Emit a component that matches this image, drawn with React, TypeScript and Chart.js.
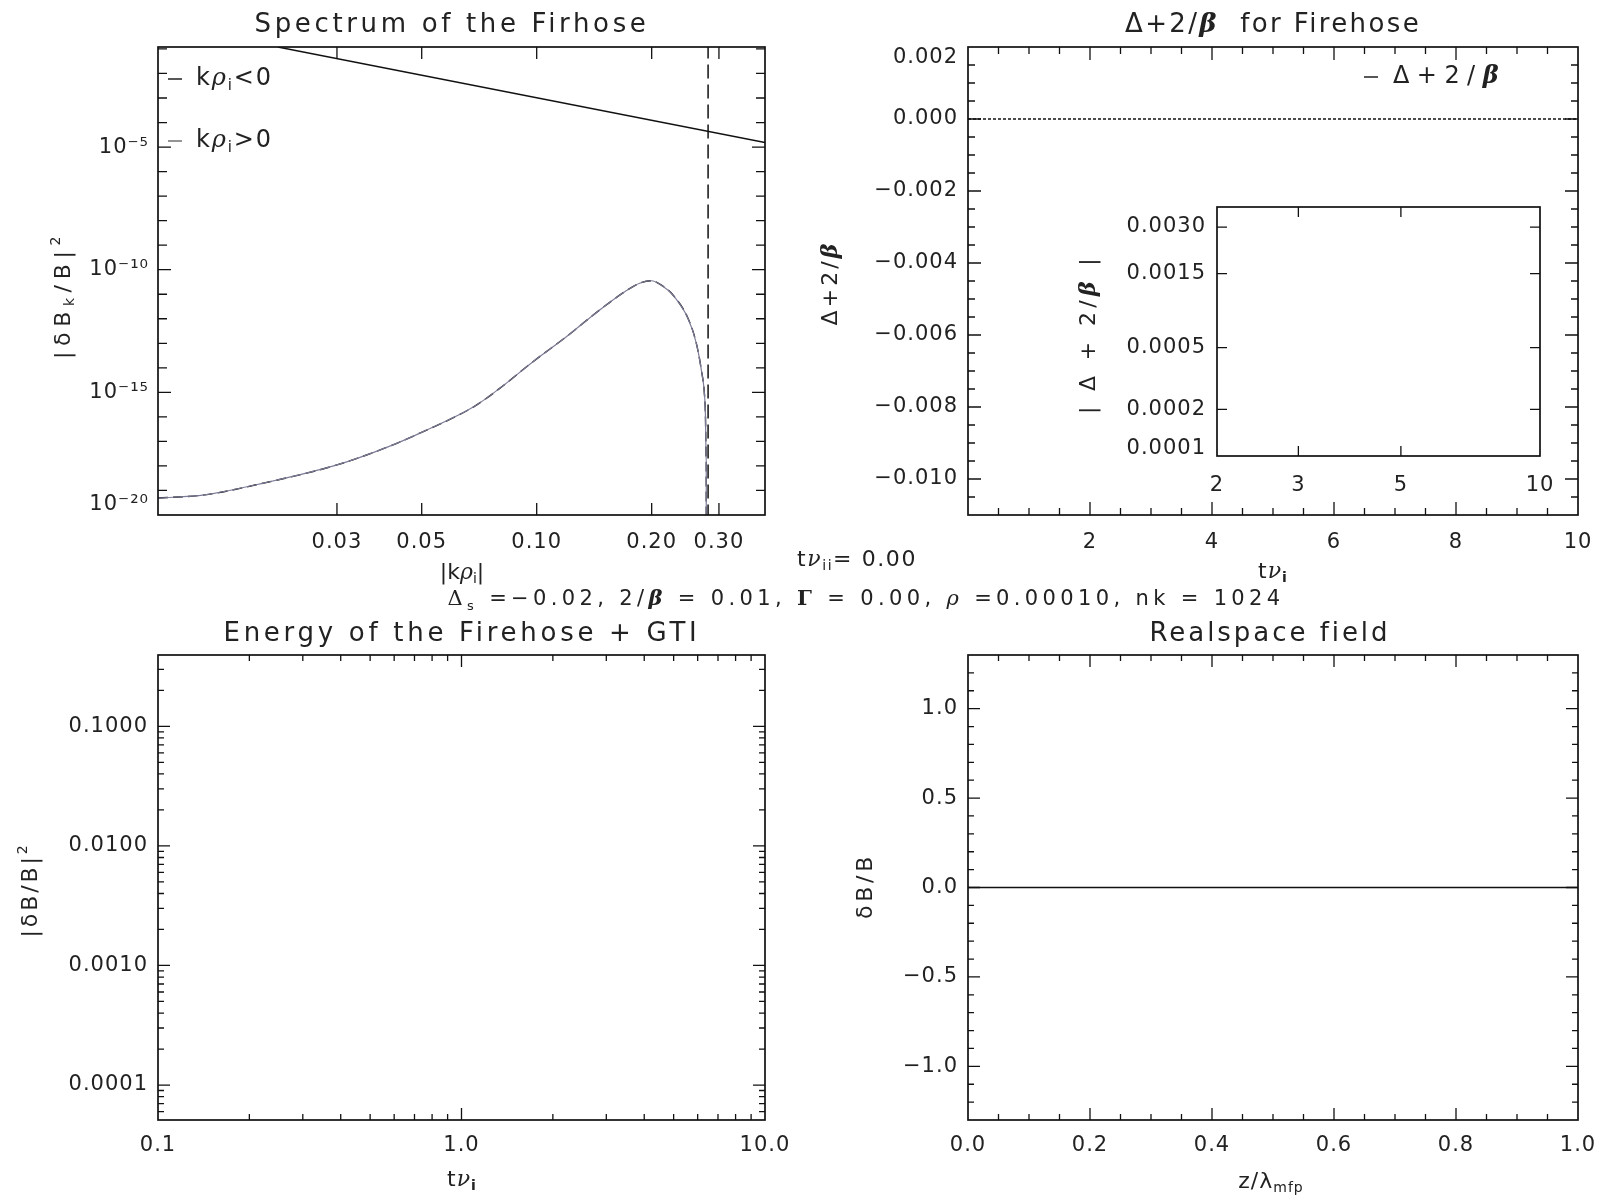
import React, { useEffect, useRef } from "react";
import { Chart, registerables } from "chart.js";

Chart.register(...registerables);

const W = 1597;
const H = 1196;
const YW = 100; // fixed width of every y scale box
const XH = 50; // fixed height of every x scale box
const SANS = "'DejaVu Sans', 'Liberation Sans', sans-serif";
const SERIF = "'DejaVu Serif', 'Liberation Serif', serif";
const TEXT = "#222";
const WEIGHT = "400";
const LS = "1px";

// ---------------- Panel 1: Spectrum of the Firhose ----------------
const specK = [0.0102, 0.0135, 0.0194, 0.03, 0.0408, 0.0503, 0.0684, 0.08, 0.0978, 0.1196, 0.1462, 0.17, 0.186, 0.1996, 0.213, 0.2274, 0.2489, 0.2618, 0.2698, 0.2752, 0.2766, 0.2771, 0.2779, 0.2779];
const specPos = [4.9e-20, 6.6e-20, 2.04e-19, 1.1e-18, 6.0e-18, 2.45e-17, 2.57e-16, 1.45e-15, 1.78e-14, 1.86e-13, 2.29e-12, 1.26e-11, 2.82e-11, 3.55e-11, 2.24e-11, 9.3e-12, 1.05e-12, 1.0e-13, 8.1e-15, 6.6e-16, 1.02e-16, 1.55e-17, 1.29e-18, 1e-22];
const specNeg = [4.9e-20, 6.6e-20, 2.04e-19, 1.1e-18, 6.0e-18, 2.45e-17, 2.57e-16, 1.45e-15, 1.78e-14, 1.86e-13, 2.29e-12, 1.26e-11, 2.82e-11, 3.55e-11, 2.24e-11, 9.3e-12, 1.05e-12, 1.0e-13, 8.1e-15, 6.6e-16, 1.02e-16, 1.55e-17, 1.29e-18, 1e-22];
const refK = [0.021, 0.396];
const refVal = [0.12, 1.53e-5];
const cutK = [0.281, 0.281];
const cutVal = [1, 1e-22];
const specXTicks = [0.03, 0.05, 0.1, 0.2, 0.3];
const specXLabels = ["0.03", "0.05", "0.10", "0.20", "0.30"];
const specYTicks = [1e-20, 1e-15, 1e-10, 1e-5];
const specYLabels: (string | string[])[] = [["10⁻²⁰", ""], "10⁻¹⁵", "10⁻¹⁰", "10⁻⁵"];

// ---------------- Panel 2: Δ+2/β for Firehose ----------------
const timeVals = [0, 10];
const anisVals = [0, 0];
const anisXTicks = [2, 4, 6, 8, 10];
const anisXLabels = ["2", "4", "6", "8", "10"];
const anisYTicks = [-0.01, -0.008, -0.006, -0.004, -0.002, 0, 0.002];
const anisYLabels: (string | string[])[] = ["−0.010", "−0.008", "−0.006", "−0.004", "−0.002", "0.000", ["", "0.002"]];

// inset
const insetXTicks = [2, 3, 5, 10];
const insetXLabels = ["2", "3", "5", "10"];
const insetYTicks = [0.0001, 0.0002, 0.0005, 0.0015, 0.003];
const insetYLabels: (string | string[])[] = [["0.0001", ""], "0.0002", "0.0005", "0.0015", "0.0030"];

// ---------------- Panel 3: Energy ----------------
const energyXTicks = [0.1, 1, 10];
const energyXLabels = ["0.1", "1.0", "10.0"];
const energyYTicks = [0.0001, 0.001, 0.01, 0.1];
const energyYLabels = ["0.0001", "0.0010", "0.0100", "0.1000"];

// ---------------- Panel 4: Realspace field ----------------
const zVals = [0, 1];
const fieldVals = [0, 0];
const fieldXTicks = [0, 0.2, 0.4, 0.6, 0.8, 1];
const fieldXLabels = ["0.0", "0.2", "0.4", "0.6", "0.8", "1.0"];
const fieldYTicks = [-1, -0.5, 0, 0.5, 1];
const fieldYLabels = ["−1.0", "−0.5", "0.0", "0.5", "1.0"];

// ---------------- helpers ----------------
type Seg = { t: string; serif?: boolean; italic?: boolean; bold?: boolean; sub?: boolean; sup?: boolean };
type TextItem = { segs: Seg[]; x: number; y: number; size: number; align?: "left" | "center"; rotate?: boolean; width?: number };
type Marks = { major: number[]; minor: number[]; majorLen: number; minorLen: number };
type LegLine = { x1: number; x2: number; y: number; color?: string };

const linSteps = (a: number, b: number, s: number) => {
  const out: number[] = [];
  const n = Math.round((b - a) / s);
  for (let i = 0; i <= n; i++) out.push(+(a + i * s).toFixed(10));
  return out;
};
const logMinors = (a: number, b: number) => {
  const out: number[] = [];
  for (let e = Math.floor(Math.log10(a)); e <= Math.ceil(Math.log10(b)); e++)
    for (let m = 1; m < 10; m++) {
      const v = m * Math.pow(10, e);
      if (v >= a && v <= b) out.push(v);
    }
  return out;
};
const decades = (a: number, b: number) => {
  const out: number[] = [];
  for (let e = Math.ceil(Math.log10(a)); e <= Math.floor(Math.log10(b)); e++) out.push(Math.pow(10, e));
  return out;
};

function segFont(s: Seg, size: number) {
  const sz = s.sub || s.sup ? Math.round(size * 0.62) : size;
  return `${s.italic ? "italic " : ""}${s.bold ? "700" : WEIGHT} ${sz}px ${s.serif ? SERIF : SANS}`;
}

function drawRich(ctx: any, item: TextItem) {
  ctx.save();
  ctx.fillStyle = TEXT;
  ctx.textBaseline = "middle";
  ctx.textAlign = "left";
  const measure = (ls: number) => {
    ctx.letterSpacing = ls + "px";
    let w = 0;
    for (const s of item.segs) {
      ctx.font = segFont(s, item.size);
      w += ctx.measureText(s.t).width;
    }
    return w;
  };
  let ls = 1;
  if (item.width) {
    const w0 = measure(0);
    const n = item.segs.reduce((a, s) => a + s.t.length, 0);
    ls = Math.max(0, Math.min(8, (item.width - w0) / n));
  }
  const total = measure(ls);
  ctx.translate(item.x, item.y);
  if (item.rotate) ctx.rotate(-Math.PI / 2);
  let cx = item.align === "left" ? 0 : -total / 2;
  for (const s of item.segs) {
    ctx.font = segFont(s, item.size);
    const dy = s.sub ? item.size * 0.3 : s.sup ? -item.size * 0.35 : 0;
    ctx.fillText(s.t, cx, dy);
    cx += ctx.measureText(s.t).width;
  }
  ctx.restore();
}

function framePlugin(xm: Marks, ym: Marks, texts: TextItem[], legend: LegLine[]) {
  return {
    id: "idlFrame",
    beforeLayout(chart: any) {
      chart.ctx.letterSpacing = LS;
    },
    beforeDraw(chart: any) {
      chart.ctx.letterSpacing = LS;
    },
    afterDraw(chart: any) {
      const { ctx, chartArea: a, scales } = chart;
      const xs = scales.x;
      const ys = scales.y;
      ctx.save();
      ctx.setLineDash([]);
      ctx.strokeStyle = "#111";
      ctx.lineWidth = 1.3;
      ctx.beginPath();
      const tickX = (v: number, len: number) => {
        const p = xs.getPixelForValue(v);
        if (p < a.left + 0.5 || p > a.right - 0.5) return;
        ctx.moveTo(p, a.bottom);
        ctx.lineTo(p, a.bottom - len);
        ctx.moveTo(p, a.top);
        ctx.lineTo(p, a.top + len);
      };
      const tickY = (v: number, len: number) => {
        const p = ys.getPixelForValue(v);
        if (p < a.top + 0.5 || p > a.bottom - 0.5) return;
        ctx.moveTo(a.left, p);
        ctx.lineTo(a.left + len, p);
        ctx.moveTo(a.right, p);
        ctx.lineTo(a.right - len, p);
      };
      xm.minor.forEach((v) => tickX(v, xm.minorLen));
      xm.major.forEach((v) => tickX(v, xm.majorLen));
      ym.minor.forEach((v) => tickY(v, ym.minorLen));
      ym.major.forEach((v) => tickY(v, ym.majorLen));
      ctx.stroke();
      ctx.lineWidth = 1.7;
      ctx.strokeRect(a.left, a.top, a.right - a.left, a.bottom - a.top);
      ctx.lineWidth = 1.4;
      for (const l of legend) {
        ctx.strokeStyle = l.color || "#111";
        ctx.beginPath();
        ctx.moveTo(l.x1, l.y);
        ctx.lineTo(l.x2, l.y);
        ctx.stroke();
      }
      ctx.restore();
      texts.forEach((t) => drawRich(ctx, t));
    },
  };
}

type AxisSpec = { type: "linear" | "logarithmic"; min: number; max: number; ticks: number[]; labels: (string | string[])[]; pad: number; lh?: number };

function scaleOpts(ax: AxisSpec, isX: boolean) {
  return {
    type: ax.type,
    min: ax.min,
    max: ax.max,
    position: isX ? "bottom" : "left",
    grid: { display: false, drawTicks: false },
    border: { display: false },
    title: { display: false },
    ticks: {
      autoSkip: false,
      maxRotation: 0,
      minRotation: 0,
      padding: ax.pad,
      color: TEXT,
      font: { family: SANS, size: 21, weight: WEIGHT, lineHeight: ax.lh ?? 1.2 },
      callback: (_v: any, i: number) => ax.labels[i],
    },
    afterBuildTicks: (s: any) => {
      s.ticks = ax.ticks.map((v) => ({ value: v }));
    },
    afterFit: (s: any) => {
      if (isX) s.height = XH;
      else s.width = YW;
      s.paddingLeft = 0;
      s.paddingRight = 0;
      s.paddingTop = 0;
      s.paddingBottom = 0;
    },
  };
}

type Area = { left: number; top: number; right: number; bottom: number };

function build(canvas: HTMLCanvasElement, area: Area, x: AxisSpec, y: AxisSpec, datasets: any[], xm: Marks, ym: Marks, texts: TextItem[], legend: LegLine[]) {
  return new Chart(canvas, {
    type: "scatter",
    data: { datasets },
    options: {
      responsive: false,
      maintainAspectRatio: false,
      animation: false,
      devicePixelRatio: 1,
      events: [],
      layout: {
        padding: { left: area.left - YW, top: area.top, right: W - area.right, bottom: H - area.bottom - XH },
      },
      plugins: { legend: { display: false }, tooltip: { enabled: false }, title: { display: false } },
      scales: { x: scaleOpts(x, true), y: scaleOpts(y, false) } as any,
    },
    plugins: [framePlugin(xm, ym, texts, legend)],
  } as any);
}

const zip = (xs: number[], ys: number[]) => xs.map((v, i) => ({ x: v, y: ys[i] }));
const line = (data: any[], color: string, width: number, dash: number[] = [], extra: any = {}) => ({
  data,
  showLine: true,
  borderColor: color,
  backgroundColor: color,
  borderWidth: width,
  borderDash: dash,
  pointRadius: 0,
  fill: false,
  ...extra,
});

export default function App() {
  const r1 = useRef<HTMLCanvasElement>(null);
  const r2 = useRef<HTMLCanvasElement>(null);
  const r3 = useRef<HTMLCanvasElement>(null);
  const r4 = useRef<HTMLCanvasElement>(null);
  const r5 = useRef<HTMLCanvasElement>(null);

  useEffect(() => {
    const charts: Chart[] = [];
    const tnu = (y: number, x: number): TextItem => ({
      segs: [{ t: "t" }, { t: "ν", serif: true, italic: true }, { t: "i", sub: true, bold: true }],
      x,
      y,
      size: 22,
    });

    // Panel 1
    const specMin = 1e-20;
    const specMax = 0.12;
    charts.push(
      build(
        r1.current!,
        { left: 158, top: 47, right: 765, bottom: 515 },
        { type: "logarithmic", min: 0.0102, max: 0.396, ticks: specXTicks, labels: specXLabels, pad: 15 },
        { type: "logarithmic", min: specMin, max: specMax, ticks: specYTicks, labels: specYLabels, pad: 9, lh: 1.0 },
        [
          line(zip(specK, specNeg), "#7c7c98", 1.2, [], { cubicInterpolationMode: "monotone" }),
          line(zip(specK, specPos), "#111", 1.4, [10, 5], { cubicInterpolationMode: "monotone" }),
          line(zip(refK, refVal), "#111", 1.5),
          line(zip(cutK, cutVal), "#111", 1.5, [14, 6]),
        ],
        { major: specXTicks, minor: [], majorLen: 12, minorLen: 6 },
        { major: specYTicks, minor: decades(specMin, specMax), majorLen: 13, minorLen: 9 },
        [
          { segs: [{ t: "Spectrum of the Firhose" }], x: 452, y: 25, size: 26, width: 395 },
          { segs: [{ t: "|δB" }, { t: "k", sub: true }, { t: "/B|" }, { t: "2", sup: true }], x: 64, y: 295, size: 22, rotate: true, width: 128 },
          { segs: [{ t: "|k" }, { t: "ρ", serif: true, italic: true }, { t: "i", sub: true }, { t: "|" }], x: 462, y: 573, size: 22, width: 44 },
          { segs: [{ t: "k" }, { t: "ρ", serif: true, italic: true }, { t: "i", sub: true }, { t: "<0" }], x: 196, y: 79, size: 24, align: "left", width: 77 },
          { segs: [{ t: "k" }, { t: "ρ", serif: true, italic: true }, { t: "i", sub: true }, { t: ">0" }], x: 196, y: 141, size: 24, align: "left", width: 77 },
        ],
        [
          { x1: 168, x2: 182, y: 79 },
          { x1: 168, x2: 182, y: 141, color: "#666" },
        ]
      )
    );

    // Panel 2
    charts.push(
      build(
        r2.current!,
        { left: 968, top: 47, right: 1578, bottom: 515 },
        { type: "linear", min: 0, max: 10, ticks: anisXTicks, labels: anisXLabels, pad: 15 },
        { type: "linear", min: -0.011, max: 0.002, ticks: anisYTicks, labels: anisYLabels, pad: 10, lh: 1.0 },
        [line(zip(timeVals, anisVals), "#111", 1.5, [3, 2])],
        { major: anisXTicks, minor: linSteps(0, 10, 0.5), majorLen: 13, minorLen: 7 },
        { major: anisYTicks, minor: linSteps(-0.011, 0.002, 0.0005), majorLen: 13, minorLen: 7 },
        [
          { segs: [{ t: "Δ+2/" }, { t: "β", serif: true, italic: true, bold: true }, { t: "  for Firehose" }], x: 1273, y: 25, size: 26, width: 296 },
          { segs: [{ t: "Δ+2/" }, { t: "β", serif: true, italic: true, bold: true }], x: 831, y: 283, size: 22, rotate: true, width: 85 },
          tnu(572, 1273),
          { segs: [{ t: "Δ+2/" }, { t: "β", serif: true, italic: true, bold: true }], x: 1393, y: 77, size: 24, align: "left", width: 113 },
          { segs: [{ t: "t" }, { t: "ν", serif: true, italic: true }, { t: "ii", sub: true }, { t: "= 0.00" }], x: 797, y: 560, size: 22, align: "left", width: 120 },
          {
            segs: [
              { t: "Δ", serif: true },
              { t: "s", sub: true },
              { t: " =−0.02, 2/" },
              { t: "β", serif: true, italic: true, bold: true },
              { t: " = 0.01, " },
              { t: "Γ", serif: true, bold: true },
              { t: " = 0.00, " },
              { t: "ρ", serif: true, italic: true },
              { t: " =0.00010, nk = 1024" },
            ],
            x: 866,
            y: 600,
            size: 21,
            width: 837,
          },
        ],
        [{ x1: 1364, x2: 1378, y: 77 }]
      )
    );

    // Inset
    charts.push(
      build(
        r3.current!,
        { left: 1217, top: 207, right: 1540, bottom: 456 },
        { type: "logarithmic", min: 2, max: 10, ticks: insetXTicks, labels: insetXLabels, pad: 17 },
        { type: "logarithmic", min: 0.0001, max: 0.00404, ticks: insetYTicks, labels: insetYLabels, pad: 11, lh: 0.7 },
        [],
        { major: [3, 5], minor: [], majorLen: 10, minorLen: 5 },
        { major: insetYTicks, minor: [], majorLen: 10, minorLen: 5 },
        [
          { segs: [{ t: "| Δ + 2/" }, { t: "β", serif: true, italic: true, bold: true }, { t: " |" }], x: 1089, y: 334, size: 22, rotate: true, width: 160 },
        ],
        []
      )
    );

    // Panel 3
    const eMin = 5.1e-5;
    const eMax = 0.395;
    charts.push(
      build(
        r4.current!,
        { left: 158, top: 655, right: 765, bottom: 1120 },
        { type: "logarithmic", min: 0.1, max: 10, ticks: energyXTicks, labels: energyXLabels, pad: 13 },
        { type: "logarithmic", min: eMin, max: eMax, ticks: energyYTicks, labels: energyYLabels, pad: 10 },
        [],
        { major: energyXTicks, minor: logMinors(0.1, 10), majorLen: 12, minorLen: 6 },
        { major: energyYTicks, minor: logMinors(eMin, eMax), majorLen: 12, minorLen: 6 },
        [
          { segs: [{ t: "Energy of the Firehose + GTI" }], x: 462, y: 634, size: 26, width: 477 },
          { segs: [{ t: "|δB/B|" }, { t: "2", sup: true }], x: 31, y: 890, size: 22, rotate: true, width: 95 },
          tnu(1180, 462),
        ],
        []
      )
    );

    // Panel 4
    charts.push(
      build(
        r5.current!,
        { left: 968, top: 655, right: 1578, bottom: 1120 },
        { type: "linear", min: 0, max: 1, ticks: fieldXTicks, labels: fieldXLabels, pad: 13 },
        { type: "linear", min: -1.3, max: 1.3, ticks: fieldYTicks, labels: fieldYLabels, pad: 10 },
        [line(zip(zVals, fieldVals), "#111", 1.6)],
        { major: fieldXTicks, minor: linSteps(0, 1, 0.05), majorLen: 12, minorLen: 6 },
        { major: fieldYTicks, minor: linSteps(-1.3, 1.3, 0.1), majorLen: 12, minorLen: 6 },
        [
          { segs: [{ t: "Realspace field" }], x: 1270, y: 634, size: 26, width: 241 },
          { segs: [{ t: "δB/B" }], x: 866, y: 886, size: 22, rotate: true, width: 66 },
          { segs: [{ t: "z/λ" }, { t: "mfp", sub: true }], x: 1271, y: 1182, size: 22 },
        ],
        []
      )
    );

    return () => charts.forEach((c) => c.destroy());
  }, []);

  const cs: React.CSSProperties = { position: "absolute", left: 0, top: 0, width: W + "px", height: H + "px" };
  return (
    <div style={{ position: "fixed", left: 0, top: 0, width: W, height: H, background: "#fff", overflow: "hidden" }}>
      <canvas ref={r1} width={W} height={H} style={cs} />
      <canvas ref={r2} width={W} height={H} style={cs} />
      <canvas ref={r3} width={W} height={H} style={cs} />
      <canvas ref={r4} width={W} height={H} style={cs} />
      <canvas ref={r5} width={W} height={H} style={cs} />
    </div>
  );
}
